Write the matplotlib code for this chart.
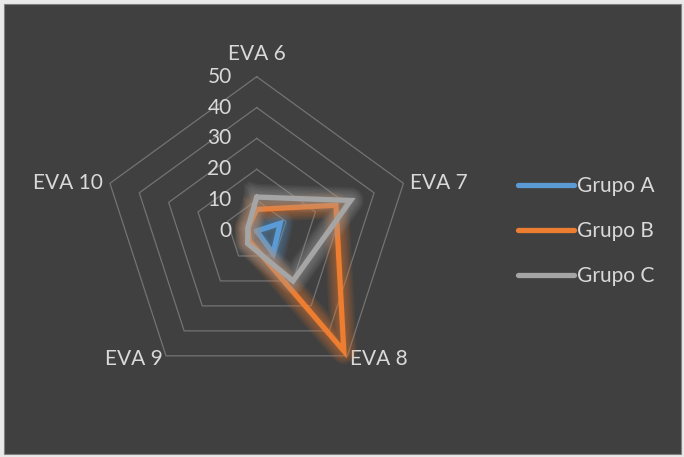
import numpy as np
import matplotlib.pyplot as plt
from matplotlib.patches import Rectangle

# datos del gráfico radial
categorias = ["EVA 6", "EVA 7", "EVA 8", "EVA 9", "EVA 10"]
grupo_a = [0, 8, 9, 0, 0]
grupo_b = [7, 27, 48, 4, 3]
grupo_c = [11, 32, 20, 5, 3]
series = ["Grupo A", "Grupo B", "Grupo C"]
escala = [0, 10, 20, 30, 40, 50]

# estilo
plt.rcParams["font.family"] = ["Lato", "DejaVu Sans"]
fondo = "#404040"
texto = "#d9d9d9"
rejilla = "#737373"
colores = ["#5b9bd5", "#ed7d31", "#a5a5a5"]
fs = 15

W, H = 684, 457
fig = plt.figure(figsize=(W / 100, H / 100), dpi=100, facecolor="#e9e9e9")
fig.patches.append(Rectangle((4 / W, 3 / H), 677 / W, 450 / H, transform=fig.transFigure,
                             facecolor=fondo, edgecolor="#808080", lw=0.8, zorder=-5))

# centro (256.7, 231) px, radio 154.3 px
cx, cy, R = 256.7, 231.0, 154.3
ax = fig.add_axes([(cx - R) / W, (H - cy - R) / H, 2 * R / W, 2 * R / H], projection="polar")
ax.set_zorder(1)
ax.set_facecolor("none")
ax.set_theta_offset(np.pi / 2)
ax.set_theta_direction(-1)
ax.set_ylim(0, escala[-1])
ax.grid(False)
ax.spines["polar"].set_visible(False)
ax.set_xticks([])
ax.set_yticks([])

ang = np.linspace(0, 2 * np.pi, len(categorias), endpoint=False)
def cerrar(v):
  v = np.asarray(v, dtype=float)
  return np.concatenate([v, v[:1]])
ang_c = cerrar(ang)

# pentágonos de la rejilla
for r in escala[1:]:
  ax.plot(ang_c, [r] * len(ang_c), color=rejilla, lw=0.9, zorder=1, clip_on=False)

# series con efecto de resplandor
lineas = []
for k, (nombre, valores, color) in enumerate(zip(series, [grupo_a, grupo_b, grupo_c], colores)):
  v = cerrar(valores)
  for w in np.arange(19, 4, -2):
    ax.plot(ang_c, v, color=color, lw=w, alpha=0.075, solid_joinstyle="round",
            zorder=2 + 2 * k, clip_on=False)
  ln, = ax.plot(ang_c, v, color=color, lw=3.8, label=nombre, solid_joinstyle="miter",
                solid_capstyle="round", zorder=3 + 2 * k, clip_on=False)
  lineas.append(ln)

# etiquetas de categorías (desplazamiento en puntos)
offs = [((0, 16.5), "center"), ((5, 0), "left"), ((2, -2), "left"), ((-2, -2), "right"), ((-5, 0), "right")]
for a, nombre, (d, ha) in zip(ang, categorias, offs):
  ax.annotate(nombre, xy=(a, escala[-1]), xytext=d, textcoords="offset points",
              ha=ha, va="center", color=texto, fontsize=fs, annotation_clip=False)

# etiquetas del eje radial
for r in escala:
  ax.annotate(str(r), xy=(0, r), xytext=(-18, 0), textcoords="offset points",
              ha="right", va="center", color=texto, fontsize=fs, annotation_clip=False)

# leyenda
fig.legend(handles=lineas, loc="center left", bbox_to_anchor=(518 / W, 1 - 231 / H),
           frameon=False, fontsize=fs, labelcolor=texto, handlelength=2.7,
           handletextpad=0.15, labelspacing=1.2, borderpad=0, borderaxespad=0)

fig.savefig("out.png", dpi=100, facecolor=fig.get_facecolor())
